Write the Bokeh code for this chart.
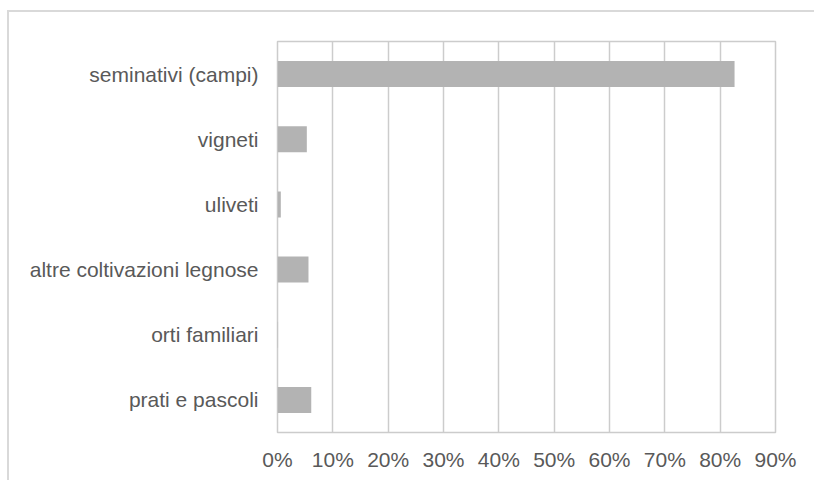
from bokeh.plotting import figure
from bokeh.models import ColumnDataSource, FixedTicker, NumeralTickFormatter, Range1d
from bokeh.embed import file_html
from bokeh.resources import INLINE

categories = ["seminativi (campi)", "vigneti", "uliveti",
              "altre coltivazioni legnose", "orti familiari", "prati e pascoli"]
shares = [0.826, 0.053, 0.006, 0.056, 0.001, 0.061]
tick_values = [0.0, 0.1, 0.2, 0.3, 0.4, 0.5, 0.6, 0.7, 0.8, 0.9]

source = ColumnDataSource(dict(cat=categories, val=shares))

p = figure(
    y_range=list(reversed(categories)),
    x_range=Range1d(0, 0.9),
    frame_width=498, frame_height=391,
    min_border_left=268, min_border_top=29, min_border_right=39, min_border_bottom=48,
    output_backend="svg", toolbar_location=None,
    background_fill_color="white", border_fill_color="white",
)
p.margin = (10, 0, 0, 7)
p.styles = {"border-left": "2px solid #d9d9d9", "border-top": "2px solid #d9d9d9"}

p.hbar(y="cat", right="val", left=0, height=0.4, source=source,
       fill_color="#b3b3b3", line_color=None)

p.outline_line_color = "#cccccc"
p.outline_line_width = 1.5

p.xgrid.ticker = FixedTicker(ticks=tick_values)
p.xgrid.grid_line_color = "#cccccc"
p.xgrid.grid_line_width = 1.5
p.ygrid.grid_line_color = None

p.xaxis.ticker = FixedTicker(ticks=tick_values)
p.xaxis.formatter = NumeralTickFormatter(format="0%")
for ax in (p.xaxis, p.yaxis):
    ax.axis_line_color = None
    ax.major_tick_line_color = None
    ax.minor_tick_line_color = None
    ax.major_tick_out = 0
    ax.major_tick_in = 0
    ax.major_label_text_font = "Liberation Sans"
    ax.major_label_text_font_size = "21px"
    ax.major_label_text_color = "#595959"
p.xaxis.major_label_standoff = 15
p.yaxis.major_label_standoff = 19

open("out.html", "w").write(file_html(p, INLINE))
